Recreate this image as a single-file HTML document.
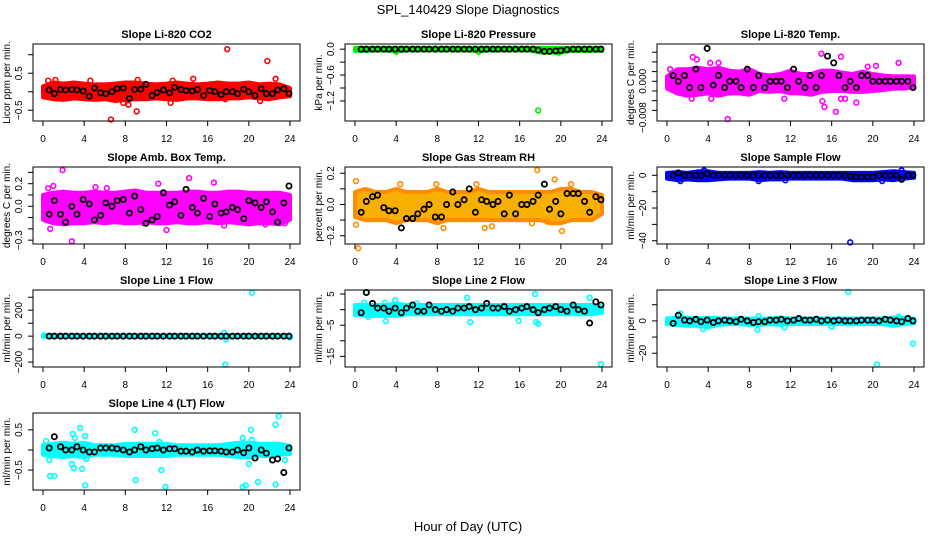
<!DOCTYPE html>
<html><head><meta charset="utf-8"><style>
html,body{margin:0;padding:0;background:#fff;}
svg{display:block;font-family:"Liberation Sans",sans-serif;}
</style></head><body>
<svg id="chart" width="936" height="540" viewBox="0 0 936 540">
<text x="468" y="14" text-anchor="middle" font-size="13">SPL_140429  Slope Diagnostics</text>
<text x="468" y="531" text-anchor="middle" font-size="13">Hour of Day (UTC)</text>
</svg>
<script>
const bandHours=[0,1,2,3,4,5,6,7,8,9,10,11,12,13,14,15,16,17,18,19,20,21,22,23,24];
const blkTimes=[0.6,1.1,1.7,2.2,2.8,3.3,3.9,4.5,5.0,5.6,6.1,6.7,7.2,7.8,8.4,8.9,9.5,10.0,10.6,11.1,11.7,12.3,12.8,13.4,13.9,14.5,15.0,15.6,16.2,16.7,17.3,17.8,18.4,18.9,19.5,20.0,20.6,21.2,21.7,22.3,22.8,23.4,23.9];
const xTicks=[0,4,8,12,16,20,24];

const co2Lo=[-0.15,-0.2,-0.22,-0.18,-0.2,-0.22,-0.2,-0.25,-0.22,-0.2,-0.2,-0.18,-0.2,-0.22,-0.18,-0.18,-0.2,-0.2,-0.18,-0.18,-0.15,-0.18,-0.2,-0.15,-0.12];
const co2Hi=[0.15,0.25,0.22,0.25,0.22,0.2,0.2,0.22,0.25,0.25,0.22,0.2,0.22,0.25,0.22,0.2,0.22,0.25,0.22,0.22,0.25,0.2,0.22,0.2,0.1];
const co2Out=[[17.9,1.15],[21.8,0.83],[6.6,-0.75],[9.1,-0.53],[8.3,-0.35],[12.4,-0.3],[21.1,-0.25],[0.5,0.3],[4.6,0.3],[14.6,0.35],[22.6,0.35],[17.7,-0.2],[1.2,0.32],[9.2,0.32],[12.6,0.3],[7.8,-0.3]];
const co2Blk=[0.05,-0.05,0.06,0.05,0.06,0.05,0.02,-0.12,0.1,-0.03,-0.05,0.0,0.08,0.1,-0.18,0.06,0.07,0.2,-0.1,-0.02,0.05,-0.03,0.12,0.06,0.03,0.02,0.06,-0.1,0.03,0.0,-0.08,0.0,0.0,-0.05,0.07,0.0,-0.1,0.08,-0.05,-0.05,0.05,0.08,-0.05];

const presLo=[-0.04,-0.04,-0.03,-0.03,-0.05,-0.03,-0.03,-0.03,-0.03,-0.03,-0.03,-0.03,-0.05,-0.03,-0.03,-0.03,-0.03,-0.03,-0.08,-0.08,-0.08,-0.04,-0.04,-0.04,-0.04];
const presHi=[0.03,0.03,0.03,0.03,0.03,0.03,0.03,0.03,0.03,0.03,0.03,0.03,0.03,0.03,0.03,0.03,0.03,0.03,0.03,0.03,0.03,0.03,0.03,0.03,0.03];
const presOut=[[17.8,-1.42],[4.0,-0.06],[12.0,-0.06],[19.8,-0.08]];
const presBlk=[0,0,0,0,0,0,0,0,0,0,0,0,0,0,0,0,0,0,0,0,0,0,0,0,0,0,0,0,0,0,0,-0.02,-0.05,-0.05,-0.04,-0.03,-0.01,0,0,0,0,0,0];

const tempLo=[-0.0015,-0.0025,-0.003,-0.0028,-0.0025,-0.003,-0.0025,-0.0025,-0.0028,-0.002,-0.0022,-0.002,-0.0025,-0.0025,-0.0028,-0.0022,-0.002,-0.002,-0.0022,-0.0022,-0.002,-0.0018,-0.0015,-0.0015,-0.0012];
const tempHi=[0.001,0.0025,0.0025,0.0028,0.0025,0.0028,0.0022,0.002,0.0025,0.0015,0.0012,0.0015,0.0022,0.0015,0.0015,0.0022,0.0022,0.0018,0.0015,0.002,0.0015,0.0012,0.001,0.001,0.001];
const tempOut=[[2.5,0.005],[2.9,0.0045],[15.0,0.0057],[16.9,0.0051],[22.5,0.0038],[5.9,-0.0078],[15.3,-0.0053],[16.4,-0.0063],[15.1,-0.0041],[18.4,-0.0044],[2.4,-0.0036],[4.3,-0.0036],[11.4,-0.0036],[16.9,-0.0036],[17.3,-0.0036],[4.2,0.0038],[5.0,0.0038],[0.3,0.0025],[19.5,0.003],[20.3,0.0032]];
const tempBlk=[0.0012,0.0,0.0012,-0.0013,0.0025,-0.0013,0.0068,-0.0008,0.0012,-0.0013,0.0,0.0,-0.0013,0.0025,-0.0013,0.0012,-0.0013,0.0,0.0,0.0,-0.0013,0.0025,0.0,-0.0013,0.0012,-0.0013,0.0012,0.0052,0.0038,0.0012,-0.0013,0.0,-0.0013,0.0012,0.0012,0.0,0.0,0.0,0.0,0.0,0.0,0.0,-0.0013];

const ambLo=[-0.12,-0.15,-0.16,-0.15,-0.15,-0.14,-0.15,-0.14,-0.15,-0.15,-0.14,-0.15,-0.15,-0.14,-0.15,-0.15,-0.14,-0.15,-0.14,-0.15,-0.16,-0.15,-0.15,-0.16,-0.12];
const ambHi=[0.1,0.12,0.13,0.12,0.12,0.13,0.12,0.12,0.13,0.14,0.12,0.12,0.12,0.12,0.13,0.13,0.12,0.12,0.13,0.13,0.12,0.12,0.12,0.12,0.1];
const ambOut=[[1.9,0.32],[2.8,-0.31],[14.2,0.25],[0.7,-0.2],[12.0,-0.21],[17.6,-0.17],[16.6,0.21],[11.2,0.2],[0.5,0.16],[1.0,0.18],[5.1,0.17],[6.2,0.16],[23.5,-0.15],[20.3,-0.14],[21.6,-0.16],[9.8,-0.15]];
const ambBlk=[-0.07,0.05,-0.07,-0.14,0.0,-0.07,0.06,0.02,-0.12,-0.08,0.03,0.0,0.05,0.06,-0.06,0.09,-0.03,-0.15,-0.12,-0.09,0.12,0.01,0.04,-0.08,0.15,-0.01,-0.06,0.07,-0.09,0.02,-0.06,-0.05,-0.01,-0.03,-0.11,0.05,0.03,-0.01,0.04,-0.05,-0.14,0.03,0.18];

const rhLo=[-0.08,-0.1,-0.1,-0.1,-0.12,-0.1,-0.1,-0.1,-0.12,-0.1,-0.1,-0.1,-0.1,-0.1,-0.1,-0.1,-0.1,-0.1,-0.1,-0.12,-0.12,-0.1,-0.1,-0.1,-0.06];
const rhHi=[0.08,0.1,0.08,0.08,0.1,0.08,0.08,0.08,0.1,0.08,0.08,0.08,0.1,0.08,0.08,0.08,0.08,0.08,0.08,0.08,0.1,0.1,0.08,0.08,0.06];
const rhOut=[[0.3,-0.28],[17.7,0.22],[0.1,0.15],[19.4,0.16],[0.1,-0.13],[12.6,-0.15],[20.1,-0.17],[8.6,-0.15],[13.3,-0.14],[4.4,0.13],[7.9,0.13],[11.8,0.13],[21.0,0.13],[17.2,-0.12],[18.7,-0.11]];
const rhBlk=[-0.05,0.02,0.05,0.06,-0.02,-0.04,-0.04,-0.15,-0.09,-0.09,-0.06,-0.03,0.0,-0.08,-0.08,0.0,0.08,0.0,0.03,0.1,-0.05,0.03,0.02,0.0,0.02,-0.06,0.06,-0.06,0.0,0.0,0.02,0.06,0.13,-0.03,0.02,-0.06,0.07,0.07,0.07,0.02,-0.05,0.05,0.03];

const sfLo=[-2,-3,-2.5,-3,-3,-2.5,-2,-2,-2,-3,-2.5,-2.5,-2,-2,-2,-2,-2,-2,-3,-3,-3,-2.5,-3,-2,-1.5];
const sfHi=[1.5,2,1.5,2.5,2.5,1.5,1.5,1.5,1.5,2,1.5,2,1.5,1.5,1.5,1.5,1.5,1.5,1.5,1.5,1.5,2,2.5,2,1.5];
const sfOut=[[17.8,-41],[1.3,-3.5],[8.9,-3.5],[11.5,-3],[20.9,-3.5],[3.6,3],[22.8,3]];
const sfBlk=[0,1.5,0,0,0,0,1,0,0,0,0,0,0,0,0,0,0,0,0,0,0,0,0,0,0,0,0,0,0,0,0,-0.5,-1,-1,-1,-1,0,0,0,0,-2.5,0,0];

const l1Lo=[-6,-6,-6,-6,-6,-6,-6,-6,-6,-6,-6,-6,-6,-6,-6,-6,-6,-6,-6,-6,-6,-6,-6,-6,-6];
const l1Hi=[6,6,6,6,6,6,6,6,6,6,6,6,6,6,6,6,6,6,6,6,6,6,6,6,6];
const l1Out=[[20.3,335],[17.7,-220],[17.8,-25],[17.6,25],[17.5,-5],[24,-10],[0.1,5]];
const l1Blk=[0,0,0,0,0,0,0,0,0,0,0,0,0,0,0,0,0,0,0,0,0,0,0,0,0,0,0,0,0,0,0,0,0,0,0,0,0,0,0,0,0,0,0];

const l2Lo=[-1.5,-2,-2,-2,-2,-1.5,-1.5,-1.5,-1.5,-1.5,-1.5,-1.5,-1.5,-1.5,-1.5,-1.5,-1.5,-1.5,-1.5,-1.5,-1.5,-1.5,-1.5,-1.5,-1];
const l2Hi=[1.5,1.5,1.5,1.5,2,1.5,1.5,1.5,1.5,1.5,1.5,1.5,1.5,1.5,1.5,1.5,1.5,1.5,1.5,1.5,1.5,1.5,1.5,1.5,1];
const l2Out=[[1.1,5.5],[17.5,5],[10.9,3.8],[22.8,3.8],[3.9,3],[11.2,-4],[15.9,-3.6],[17.8,-4.5],[23.9,-17.5],[3.0,-3.7],[0.1,-1.5],[1.3,-2.3],[0.9,2.2],[2.9,2.2],[6.0,2],[17.6,-4]];
const l2Blk=[-1,5.5,2,0.5,0.5,-0.5,0.5,-1,0.5,1.5,-0.5,-0.5,1.5,0,-0.5,0,-0.5,0.5,0.5,1,0,0.5,2,0.5,0.5,1,-0.5,0,0.5,1,0,-1,0,0.5,1,0,-0.5,1.5,0,-0.5,-4.3,2.5,1.5];

const l3Lo=[-2,-2.5,-3,-3,-4,-2.5,-2,-2,-2.5,-2.5,-2,-2.5,-2,-2,-2,-2,-2,-2,-2,-2,-2,-2,-3,-2,-1.5];
const l3Hi=[1.5,2,2,1.5,2,1.5,1.5,1.5,1.5,1.5,1.5,2,1.5,1.5,1.5,1.5,1.5,1.5,1.5,1.5,1.5,1.5,2,2,1.5];
const l3Out=[[17.6,18],[20.4,-27],[23.9,-14],[8.8,-5.5],[3.5,-5],[1.3,4.5],[8.9,3],[11.4,-4],[16.0,-3.5],[22.5,2.5]];
const l3Blk=[-1.5,3.5,0.5,0,1,-0.5,0.5,-1,0,0.5,0,-0.5,1,0,-1,-0.5,-0.5,0.5,0.5,1,0,0.5,1.5,0.5,0.5,1,0,0.5,0,0.5,0,0,0,0.5,0.5,0.5,0,1,0.5,0,-0.5,1.5,0];

const l4Lo=[-0.12,-0.15,-0.18,-0.15,-0.18,-0.12,-0.12,-0.12,-0.15,-0.15,-0.15,-0.15,-0.15,-0.12,-0.12,-0.12,-0.12,-0.12,-0.15,-0.18,-0.18,-0.15,-0.15,-0.12,-0.1];
const l4Hi=[0.12,0.15,0.18,0.15,0.18,0.12,0.12,0.12,0.15,0.15,0.15,0.15,0.15,0.12,0.12,0.12,0.12,0.12,0.15,0.18,0.18,0.15,0.15,0.15,0.1];
const l4Out=[[0.3,0.22],[0.7,-0.65],[1.1,-0.65],[0.6,-0.25],[2.9,0.4],[3.1,0.3],[3.6,0.55],[3.8,-0.47],[4.1,-0.88],[4.1,0.35],[4.2,-0.22],[2.8,-0.35],[3.0,-0.45],[8.9,0.5],[9.0,-0.75],[10.9,0.42],[11.5,-0.5],[11.9,-0.92],[11.3,0.2],[19.4,-0.92],[19.7,-0.88],[19.4,0.3],[20.2,0.5],[20.3,0.25],[20.9,-0.8],[20.0,-0.35],[22.6,-0.86],[22.6,0.63],[22.9,0.84],[23.5,-0.25],[0.3,-0.1]];
const l4Blk=[0.05,0.33,0.08,0.0,0.0,0.08,0.0,-0.05,-0.05,0.05,0.05,0.05,0.03,0.0,-0.05,0.0,0.08,0.0,0.03,0.05,0.0,0.03,0.03,-0.03,-0.03,-0.05,0.0,-0.03,-0.02,-0.02,-0.03,-0.05,-0.05,0.0,-0.07,0.05,-0.2,0.0,-0.08,-0.25,-0.22,-0.56,0.05];

const panels=[
 {name:"co2",title:"Slope Li-820 CO2",ylab:"Licor ppm per min.",col:0,row:0,ylim:[-0.79,1.29],ticks:[-0.5,0,0.5,1.0],labels:["−0.5","","0.5",""],color:"#ff0000",band:"#ff0000",lo:co2Lo,hi:co2Hi,out:co2Out,blk:co2Blk},
 {name:"pressure",title:"Slope Li-820 Pressure",ylab:"kPa per min.",col:1,row:0,ylim:[-1.665,0.12],ticks:[0,-0.3,-0.6,-0.9,-1.2],labels:["0.0","","−0.6","","−1.2"],color:"#00ee00",band:"#00ee00",lo:presLo,hi:presHi,out:presOut,blk:presBlk},
 {name:"temp",title:"Slope Li-820 Temp.",ylab:"degrees C per min.",col:2,row:0,ylim:[-0.0082,0.0077],ticks:[0.006,0.004,0.002,0,-0.002,-0.004,-0.006],labels:["","","","0.000","","",""],extraLabel:[-0.0075,"−0.008"],color:"#ff00ff",band:"#ff00ff",lo:tempLo,hi:tempHi,out:tempOut,blk:tempBlk},
 {name:"amb-box-temp",title:"Slope Amb. Box Temp.",ylab:"degrees C per min.",col:0,row:1,ylim:[-0.334,0.348],ticks:[0.3,0.2,0.1,0,-0.1,-0.2,-0.3],labels:["","0.2","","0.0","","","−0.3"],color:"#ff00ff",band:"#ff00ff",lo:ambLo,hi:ambHi,out:ambOut,blk:ambBlk},
 {name:"gas-stream-rh",title:"Slope Gas Stream RH",ylab:"percent per min.",col:1,row:1,ylim:[-0.253,0.24],ticks:[0.2,0.1,0,-0.1,-0.2],labels:["0.2","","0.0","","−0.2"],color:"#ff8c00",band:"#f7b000",lo:rhLo,hi:rhHi,out:rhOut,blk:rhBlk},
 {name:"sample-flow",title:"Slope Sample Flow",ylab:"ml/min per min.",col:2,row:1,ylim:[-42,5.1],ticks:[0,-10,-20,-30,-40],labels:["0","","−20","","−40"],color:"#0000ff",band:"#0000ff",lo:sfLo,hi:sfHi,out:sfOut,blk:sfBlk},
 {name:"line1-flow",title:"Slope Line 1 Flow",ylab:"ml/min per min.",col:0,row:2,ylim:[-238,356],ticks:[300,200,100,0,-100,-200],labels:["","200","","0","","−200"],color:"#00ffff",band:"#00ffff",lo:l1Lo,hi:l1Hi,out:l1Out,blk:l1Blk},
 {name:"line2-flow",title:"Slope Line 2 Flow",ylab:"ml/min per min.",col:1,row:2,ylim:[-18.4,6.3],ticks:[5,0,-5,-10,-15],labels:["5","","−5","","−15"],color:"#00ffff",band:"#00ffff",lo:l2Lo,hi:l2Hi,out:l2Out,blk:l2Blk},
 {name:"line3-flow",title:"Slope Line 3 Flow",ylab:"ml/min per min.",col:2,row:2,ylim:[-28.5,19.1],ticks:[10,0,-10,-20],labels:["","0","","−20"],color:"#00ffff",band:"#00ffff",lo:l3Lo,hi:l3Hi,out:l3Out,blk:l3Blk},
 {name:"line4-flow",title:"Slope Line 4 (LT) Flow",ylab:"ml/min per min.",col:0,row:3,ylim:[-0.996,0.92],ticks:[0.5,0,-0.5],labels:["0.5","","−0.5"],color:"#00ffff",band:"#00ffff",lo:l4Lo,hi:l4Hi,out:l4Out,blk:l4Blk}
];

const NS="http://www.w3.org/2000/svg";
const svg=document.getElementById("chart");
const colLeft=[33,345,657], rowTop=[44,167,290,413], BW=267, BH=77;
function mk(tag,attrs,parent){const e=document.createElementNS(NS,tag);for(const k in attrs)e.setAttribute(k,attrs[k]);parent.appendChild(e);return e;}

panels.forEach(p=>{
  const L=colLeft[p.col], T=rowTop[p.row], B=T+BH;
  const xs=v=>L+10+v/24*247;
  const ys=v=>B-(v-p.ylim[0])/(p.ylim[1]-p.ylim[0])*BH;
  const g=mk("g",{},svg);
  
  
  const t=mk("text",{x:L+BW/2,y:T-6,"text-anchor":"middle","font-size":"11","font-weight":"bold"},g);
  t.textContent=p.title;
  
  
  // band
  let d="";
  bandHours.forEach((h,i)=>{d+=(i?"L":"M")+xs(h).toFixed(1)+","+ys(p.hi[i]).toFixed(1);});
  for(let i=bandHours.length-1;i>=0;i--)d+="L"+xs(bandHours[i]).toFixed(1)+","+ys(p.lo[i]).toFixed(1);
  const band=mk("path",{d:d+"Z",fill:p.band,stroke:p.color,"stroke-width":"4","stroke-linejoin":"round"},g);
  
  
  p.out.forEach(o=>{
    const c=mk("circle",{cx:xs(o[0]),cy:ys(o[1]),r:2.4,fill:"none",stroke:p.color,"stroke-width":"1.6"},g);
    
    
  });
  p.blk.forEach((v,i)=>{
    const c=mk("circle",{cx:xs(blkTimes[i]),cy:ys(v),r:2.6,fill:"none",stroke:"#000","stroke-width":"1.8"},g);
    
    
  });
  const box=mk("rect",{x:L,y:T,width:BW,height:BH,fill:"none",stroke:"#000","stroke-width":"1"},g);
  
  
  xTicks.forEach(v=>{
    mk("line",{x1:xs(v),x2:xs(v),y1:B,y2:B+5,stroke:"#000"},g);
    const tx=mk("text",{x:xs(v),y:B+21,"text-anchor":"middle","font-size":"10"},g);
    tx.textContent=v;
    
    
  });
  p.ticks.forEach((v,i)=>{
    mk("line",{x1:L-5,x2:L,y1:ys(v),y2:ys(v),stroke:"#000"},g);
    if(p.labels[i]){
      const ty=mk("text",{x:L-11,y:ys(v),"text-anchor":"middle","font-size":"10",transform:"rotate(-90 "+(L-11)+" "+ys(v)+")"},g);
      ty.textContent=p.labels[i];
      
      
    }
  });
  if(p.extraLabel){
    const yy=ys(p.extraLabel[0]);
    const ty=mk("text",{x:L-11,y:yy,"text-anchor":"middle","font-size":"10",transform:"rotate(-90 "+(L-11)+" "+yy+")"},g);
    ty.textContent=p.extraLabel[1];
    
    
  }
  const yt=mk("text",{x:L-23,y:T+BH/2,"text-anchor":"middle","font-size":"10",transform:"rotate(-90 "+(L-23)+" "+(T+BH/2)+")"},g);
  yt.textContent=p.ylab;
  
  
});
</script>
</body></html>
